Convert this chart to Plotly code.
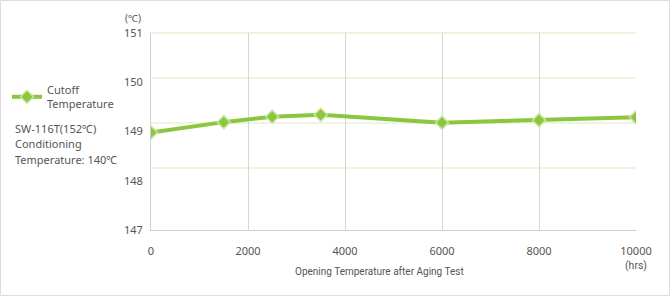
import plotly.graph_objects as go

hours = [0, 1500, 2500, 3500, 6000, 8000, 10000]
cutoff_temp = [148.98, 149.19, 149.30, 149.34, 149.18, 149.23, 149.29]
series_name = "Cutoff<br>Temperature"
x_ticks = [0, 2000, 4000, 6000, 8000, 10000]
x_tick_text = ["0", "2000", "4000", "6000", "8000", "10000"]
y_ticks = [147, 148, 149, 150, 151]
x_title = "Opening Temperature after Aging Test"
y_unit = "(℃)"
x_unit = "(hrs)"
note_lines = ["SW-116T(152℃)", "Conditioning", "Temperature: 140℃"]
# horizontal guide lines of the original drawing (its own 0..4.378 scale)
guide_levels = [1, 2, 3, 4]
guide_span = 4.378

FONT = "Noto Sans"
NARROW = "Roboto, sans-serif"
TXT = "#555555"
GREEN = "#8cc63f"

fig = go.Figure()
fig.add_trace(go.Scatter(
    x=hours, y=cutoff_temp, name=series_name, mode="lines+markers",
    line=dict(color=GREEN, width=4),
    marker=dict(symbol="diamond", size=10, color=GREEN,
                line=dict(color="#c9e49c", width=1.5)),
))

L, R, T, B = 151, 34, 33, 66
W, H = 670, 296
pw, ph = W - L - R, H - T - B

def px(x):
    return (x - L) / pw

def py(y):
    return (H - B - y) / ph

fig.update_layout(
    width=W, height=H,
    margin=dict(l=L, r=R, t=T, b=B, autoexpand=False),
    paper_bgcolor="white", plot_bgcolor="rgba(0,0,0,0)",
    font=dict(family=FONT, size=11, color=TXT),
    showlegend=True,
    legend=dict(x=px(7), y=py(76), xanchor="left", yanchor="top",
                font=dict(family=FONT, size=11, color=TXT),
                itemwidth=30, bgcolor="rgba(0,0,0,0)", tracegroupgap=0),
    xaxis=dict(range=[0, 10000], tickvals=x_ticks, ticktext=x_tick_text,
               showgrid=True, gridcolor="#d6d6d6", gridwidth=1, showline=True,
               linecolor="#cfcfcf", linewidth=1, zeroline=False,
               ticks="outside", ticklen=11, tickcolor="rgba(0,0,0,0)",
               tickfont=dict(size=11, color=TXT)),
    yaxis=dict(range=[147, 151], tickvals=y_ticks, showgrid=False,
               showline=True, linecolor="#cfcfcf", linewidth=1,
               zeroline=False, ticks="outside", ticklen=5,
               tickcolor="rgba(0,0,0,0)", tickfont=dict(size=11, color=TXT)),
)

for lv in guide_levels:
    yp = (lv + guide_span - 4) / guide_span
    fig.add_shape(type="line", xref="paper", yref="paper", x0=0, x1=1,
                  y0=yp, y1=yp, line=dict(color="#dde9c2", width=1),
                  layer="below")

fig.add_annotation(text=y_unit, x=px(133), y=py(18), xref="paper", yref="paper",
                   xanchor="center", yanchor="middle", showarrow=False,
                   font=dict(size=10, color=TXT))
fig.add_annotation(text=x_unit, x=1.0, y=py(265), xref="paper", yref="paper",
                   xanchor="center", yanchor="middle", showarrow=False,
                   font=dict(family=NARROW, size=10.5, color=TXT))
fig.add_annotation(text=x_title, x=px(379), y=py(271), xref="paper", yref="paper",
                   xanchor="center", yanchor="middle", showarrow=False,
                   font=dict(family=NARROW, size=10, color=TXT))
for i, t in enumerate(note_lines):
    fig.add_annotation(text=t, x=px(13), y=py(128 + i * 15.5), xref="paper",
                       yref="paper", xanchor="left", yanchor="middle",
                       showarrow=False, font=dict(size=11, color=TXT))

fig.add_shape(type="rect", xref="paper", yref="paper",
              x0=px(0.5), x1=px(669.5), y0=py(295.5), y1=py(0.5),
              line=dict(color="#dddddd", width=1), layer="below")

fig.write_html("out.html")
